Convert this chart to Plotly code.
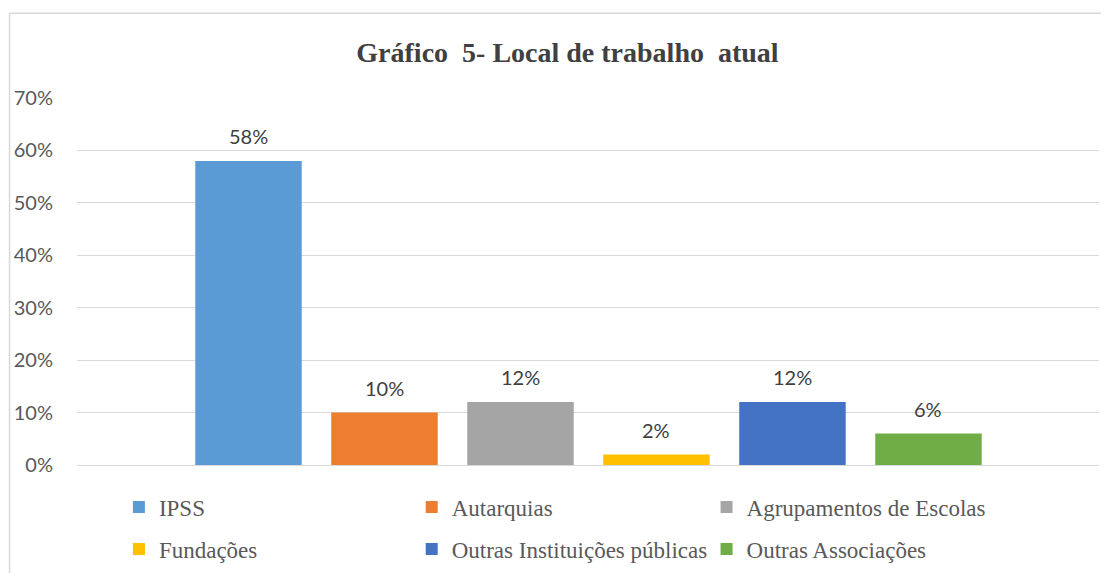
import plotly.graph_objects as go

categories = ["IPSS", "Autarquias", "Agrupamentos de Escolas", "Fundações",
              "Outras Instituições públicas", "Outras Associações"]
values = [0.58, 0.10, 0.12, 0.02, 0.12, 0.06]
labels = ["58%", "10%", "12%", "2%", "12%", "6%"]
colors = ["#5B9BD5", "#ED7D31", "#A5A5A5", "#FFC000", "#4472C4", "#70AD47"]
legend_ids = ["legend", "legend2", "legend3", "legend4", "legend5", "legend6"]
tick_vals = [0, 0.1, 0.2, 0.3, 0.4, 0.5, 0.6, 0.7]
tick_text = ["0%", "10%", "20%", "30%", "40%", "50%", "60%", "70%"]

fig = go.Figure()
for name, v, c, lg in zip(categories, values, colors, legend_ids):
    fig.add_trace(go.Bar(
        x=[name], y=[v], name=name, marker=dict(color=c, line=dict(width=0)),
        legend=lg, legendgroup=name,
    ))

annotations = [
    dict(x=name, y=v, xref="x", yref="y", text=lab, showarrow=False,
         yanchor="middle", yshift=25,
         font=dict(family="Lato, Open Sans, sans-serif", size=20, color="#404040"))
    for name, v, lab in zip(categories, values, labels)
]

legend_font = dict(family="Liberation Serif, Times New Roman, serif", size=23, color="#595959")
common = dict(orientation="v", yanchor="middle", xanchor="left", font=legend_font,
              bgcolor="rgba(0,0,0,0)", itemwidth=30)
col_x = [0.041, 0.3275, 0.616]
row_y = [-0.1114, -0.2255]

fig.update_layout(
    width=1109, height=573,
    margin=dict(l=69, r=18, t=90, b=115),
    paper_bgcolor="white", plot_bgcolor="white",
    title=dict(text="<b>Gráfico  5- Local de trabalho  atual</b>", x=0.5045, xanchor="center",
               y=0.923, yanchor="middle",
               font=dict(family="Liberation Serif, Times New Roman, serif", size=28, color="#404040")),
    barmode="overlay", bargap=0.217,
    showlegend=True,
    legend=dict(x=col_x[0], y=row_y[0], **common),
    legend2=dict(x=col_x[1], y=row_y[0], **common),
    legend3=dict(x=col_x[2], y=row_y[0], **common),
    legend4=dict(x=col_x[0], y=row_y[1], **common),
    legend5=dict(x=col_x[1], y=row_y[1], **common),
    legend6=dict(x=col_x[2], y=row_y[1], **common),
    annotations=annotations,
    xaxis=dict(showticklabels=False, showline=False, showgrid=False, zeroline=False,
               type="category", range=[-1.261, 6.254], automargin=False),
    yaxis=dict(range=[0, 0.7], tickvals=tick_vals, ticktext=tick_text,
               showgrid=True, gridcolor="#D9D9D9", gridwidth=1, zeroline=True,
               zerolinecolor="#D9D9D9", zerolinewidth=1, showline=False, ticks="",
               ticklabelstandoff=23, automargin=False,
               tickfont=dict(family="Lato, Open Sans, sans-serif", size=20, color="#595959")),
    shapes=[
        dict(type="line", xref="paper", yref="paper", x0=-0.066, x1=1.2, y0=1.231, y1=1.231,
             line=dict(color="#D9D9D9", width=1.5)),
        dict(type="line", xref="paper", yref="paper", x0=-0.066, x1=-0.066, y0=1.231, y1=-0.4,
             line=dict(color="#D9D9D9", width=1.5)),
    ],
)

fig.write_html("out.html")
